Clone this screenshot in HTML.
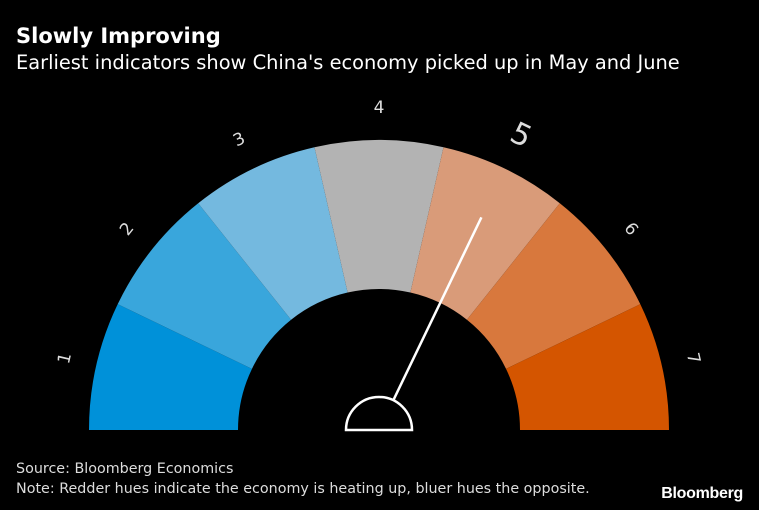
<!DOCTYPE html>
<html><head><meta charset="utf-8"><style>
body{margin:0;background:#000;width:759px;height:510px;overflow:hidden;font-family:"DejaVu Sans","Liberation Sans",sans-serif;color:#fff}
#title{position:absolute;left:16px;top:24px;font-size:21px;font-weight:bold}
#sub{position:absolute;left:16px;top:51px;font-size:19.4px}
#src{position:absolute;left:16px;top:461px;font-size:14.3px;color:#ddd}
#note{position:absolute;left:16px;top:481px;font-size:14.3px;color:#ddd}
#logo{position:absolute;right:16px;top:485px;font-family:"Liberation Sans",sans-serif;font-size:16px;font-weight:bold;letter-spacing:-0.3px}
svg{position:absolute;left:0;top:0}
</style></head><body>
<div id="title">Slowly Improving</div>
<div id="sub">Earliest indicators show China's economy picked up in May and June</div>
<svg id="g" width="759" height="510"></svg>
<div id="src">Source: Bloomberg Economics</div>
<div id="note">Note: Redder hues indicate the economy is heating up, bluer hues the opposite.</div>
<div id="logo">Bloomberg</div>
<script>
const categories=["1","2","3","4","5","6","7"];
const segColors=["#0091d9","#39a6dc","#74b9df","#b3b3b3","#d99b79","#d8783d","#d45500"];
const currentValue=5;
const svg=document.getElementById('g');
const NS="http://www.w3.org/2000/svg";
const cx=379,cy=430,R=290,r=141,LR=322;
const n=categories.length;
function ang(i){return Math.PI-(i/n)*Math.PI;}
function pt(a,rad){return [cx+rad*Math.cos(a),cy-rad*Math.sin(a)];}
categories.forEach((c,i)=>{
  const a0=ang(i),a1=ang(i+1);
  const p0=pt(a0,R),p1=pt(a1,R),p2=pt(a1,r),p3=pt(a0,r);
  const p=document.createElementNS(NS,'path');
  p.setAttribute('d',`M${p0} A${R},${R} 0 0 1 ${p1} L${p2} A${r},${r} 0 0 0 ${p3} Z`);
  p.setAttribute('fill',segColors[i]);
  
  
  svg.appendChild(p);
  const am=(a0+a1)/2;const big=(+c===currentValue);
  const lp=pt(am,big?LR+4:LR);
  const t=document.createElementNS(NS,'text');
  t.setAttribute('x',lp[0]);t.setAttribute('y',lp[1]);
  t.setAttribute('text-anchor','middle');t.setAttribute('dominant-baseline','middle');
  t.setAttribute('fill','#ddd');t.setAttribute('font-size',big?30:17);
  t.setAttribute('font-family','DejaVu Sans, sans-serif');
  t.setAttribute('transform',`rotate(${90-am*180/Math.PI} ${lp[0]} ${lp[1]})`);
  t.textContent=c;
  
  
  svg.appendChild(t);
});
const na=ang(currentValue-0.5);const np=pt(na,236);
const ln=document.createElementNS(NS,'line');
ln.setAttribute('x1',cx);ln.setAttribute('y1',cy);ln.setAttribute('x2',np[0]);ln.setAttribute('y2',np[1]);
ln.setAttribute('stroke','#fff');ln.setAttribute('stroke-width',2.5);


svg.appendChild(ln);
const hub=document.createElementNS(NS,'path');
hub.setAttribute('d',`M${cx-33},${cy} A33,33 0 0 1 ${cx+33},${cy} Z`);
hub.setAttribute('fill','#000');hub.setAttribute('stroke','#fff');hub.setAttribute('stroke-width',2.5);


svg.appendChild(hub);
</script>
</body></html>
